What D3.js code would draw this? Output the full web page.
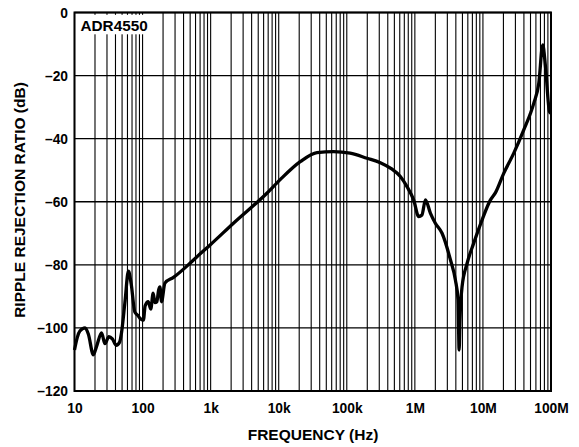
<!DOCTYPE html>
<html><head><meta charset="utf-8">
<script src="https://cdn.jsdelivr.net/npm/d3@7"></script>
<style>
html,body{margin:0;padding:0;background:#fff;}
svg text{font-family:"Liberation Sans",Arial,sans-serif;font-weight:bold;fill:#000;}
</style></head>
<body><svg id="c" width="579" height="447"></svg>
<script>
const freqHz = [10,11,12,14.3,16,18.9,21,25,28,32,36,41,46,49,55,62,68,77,85,92,103,109,121,132,143,152,162,172,180,190,213,284,498,702,982,2163,6700,10500,20700,36500,64000,112000,198000,311000,450000,612000,767000,960000,1140000,1270000,1430000,1690000,2000000,2510000,3330000,3940000,4310000,4470000,4600000,4940000,5860000,7300000,9700000,12900000,15300000,20200000,28400000,39800000,55800000,66200000,75700000,83000000,95000000,100000000];
const rrDb = [-107,-103,-101,-100,-102,-108.5,-106,-101.6,-105,-102.8,-103.5,-105.5,-104.5,-101.6,-92,-82,-86,-95,-96,-97,-97.5,-93,-91.7,-94,-89,-92,-91.7,-88,-87,-91.7,-85.8,-84,-79.5,-76.5,-73.7,-66.8,-57.3,-53,-47.3,-44.4,-44.1,-44.6,-46.2,-47.6,-49.5,-52,-55.2,-59.4,-64.7,-64.2,-59.4,-63.6,-66.8,-70,-78.4,-84.8,-91.1,-107,-97.5,-86.9,-79.5,-73.2,-65.8,-59.4,-57.1,-51,-44.6,-37.2,-28.8,-22.4,-10.3,-17.2,-31.4,-32];
const xTickVals = [10,100,1e3,1e4,1e5,1e6,1e7,1e8];
const xTickLabels = ["10","100","1k","10k","100k","1M","10M","100M"];
const yTickVals = [0,-20,-40,-60,-80,-100,-120];
const yTickLabels = ["0","–20","–40","–60","–80","–100","–120"];

const L=74.5,R=551,T=12.5,B=391;
const FONT="Liberation Sans, Arial, sans-serif";
const svg=d3.select("#c");
const x=d3.scaleLog().domain([10,1e8]).range([L,R]);
const y=d3.scaleLinear().domain([-120,0]).range([B,T]);

// grid
const minor=[];
for(let d=10;d<1e8;d*=10){for(let k=1;k<=9;k++){minor.push(d*k);}}
minor.push(1e8);
const g=svg.append("g");
g.selectAll("line.v").data(minor).enter().append("line")
 .attr("x1",d=>x(d)).attr("x2",d=>x(d)).attr("y1",T).attr("y2",B)
 .attr("stroke","#000").attr("stroke-width",1.1);
g.selectAll("line.h").data(yTickVals).enter().append("line")
 .attr("x1",L).attr("x2",R).attr("y1",d=>y(d)).attr("y2",d=>y(d))
 .attr("stroke","#000").attr("stroke-width",1.3);

// label box
svg.append("rect").attr("x",76).attr("y",14.8).attr("width",74).attr("height",19.5).attr("fill","#fff");
svg.append("text").attr("x",80.5).attr("y",30.7).attr("font-size",15.3).text("ADR4550");

// curve
const line=d3.line().x((d,i)=>x(freqHz[i])).y(d=>y(d)).curve(d3.curveMonotoneX);
svg.append("path").datum(rrDb).attr("d",line).attr("fill","none")
 .attr("stroke","#000").attr("stroke-width",3.3).attr("stroke-linejoin","round");

// frame
svg.append("rect").attr("x",L).attr("y",T).attr("width",R-L).attr("height",B-T)
 .attr("fill","none").attr("stroke","#000").attr("stroke-width",2);

// axes labels
const xa=d3.axisBottom(x).tickValues(xTickVals).tickFormat((d,i)=>xTickLabels[i]).tickSize(0).tickPadding(12);
const xg=svg.append("g").attr("transform",`translate(0,${B})`).call(xa);
xg.select(".domain").remove();
xg.selectAll("text").attr("font-size",13.8).attr("font-family",FONT).attr("font-weight","bold");
const ya=d3.axisLeft(y).tickValues(yTickVals).tickFormat((d,i)=>yTickLabels[i]).tickSize(0).tickPadding(6.5);
const yg=svg.append("g").attr("transform",`translate(${L},0)`).call(ya);
yg.select(".domain").remove();
yg.selectAll("text").attr("font-size",13.8).attr("font-family",FONT).attr("font-weight","bold").attr("dy","0.36em");

svg.append("text").attr("x",313).attr("y",439.5).attr("text-anchor","middle").attr("font-size",15.5).text("FREQUENCY (Hz)");
svg.append("text").attr("transform",`translate(25,200) rotate(-90)`).attr("text-anchor","middle").attr("font-size",15.5).text("RIPPLE REJECTION RATIO (dB)");
</script></body></html>
